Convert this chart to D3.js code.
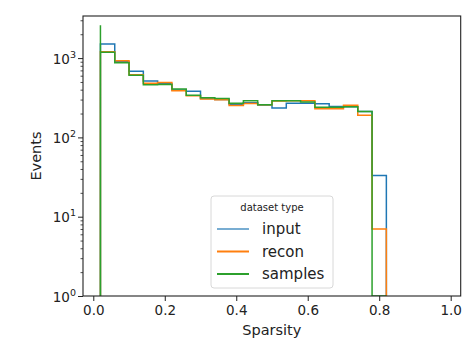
<!DOCTYPE html>
<html>
<head>
<meta charset="utf-8">
<script src="https://cdn.jsdelivr.net/npm/d3@7"></script>
<style>
  body { margin: 0; background: #fff; }
  svg { display: block; }
</style>
</head>
<body>
<div id="chart"></div>
<script>
"use strict";

// bin edges of the sparsity histogram
const binEdges = [0.02, 0.06, 0.10, 0.14, 0.18, 0.22, 0.26, 0.30, 0.34, 0.38, 0.42,
                  0.46, 0.50, 0.54, 0.58, 0.62, 0.66, 0.70, 0.74, 0.78, 0.82];

// counts per bin
const inputCounts   = [1506, 900, 682, 514, 475, 395, 381, 310, 300, 262,
                       274, 256, 235, 269, 269, 266, 245, 244, 212, 33];
const reconCounts   = [1205, 927, 615, 481, 492, 388, 335, 305, 299, 253,
                       268, 258, 287, 289, 290, 230, 230, 254, 190, 7];
const samplesCounts = [1184, 875, 607, 462, 465, 408, 340, 317, 310, 269,
                       290, 258, 290, 290, 279, 240, 240, 244, 212, 0];
const samplesSpike = 2600;

const seriesNames = ["input", "recon", "samples"];
const seriesColors = ["#1f77b4", "#ff7f0e", "#2ca02c"];

const xTicks = [0.0, 0.2, 0.4, 0.6, 0.8, 1.0];
const yTicks = [1, 10, 100, 1000];

let font_sans = "'DejaVu Sans', sans-serif";

let width = 462, height = 342;
let margin = {top: 16, right: 1.3, bottom: 46, left: 83};

const svg = d3.select("#chart").append("svg")
    .attr("width", width)
    .attr("height", height)
    .style("font-family", font_sans);

let x = d3.scaleLinear([-0.0288, 1.028], [margin.left, width - margin.right]);
let y = d3.scaleLog([1, 3396], [height - margin.bottom, margin.top]);

// step path of a histogram, zero counts drop to the bottom of the axis
function stepPath(counts, spike) {
    const ymin = y.domain()[0];
    const pts = [[binEdges[0], ymin]];
    if (spike) pts.push([binEdges[0], spike]);
    counts.forEach((c, i) => {
        const v = Math.max(c, ymin);
        pts.push([binEdges[i], v]);
        pts.push([binEdges[i + 1], v]);
    });
    pts.push([binEdges[binEdges.length - 1], ymin]);
    return d3.line().x(d => x(d[0])).y(d => y(d[1]))(pts);
}

const clip = svg.append("clipPath").attr("id", "clip")
    .append("rect")
    .attr("x", margin.left).attr("y", margin.top)
    .attr("width", width - margin.right - margin.left)
    .attr("height", height - margin.bottom - margin.top);

const lines = svg.append("g").attr("clip-path", "url(#clip)");
[[inputCounts, null], [reconCounts, null], [samplesCounts, samplesSpike]].forEach(([c, s], i) => {
    lines.append("path")
        .attr("d", stepPath(c, s))
        .attr("fill", "none")
        .attr("stroke", seriesColors[i])
        .attr("stroke-width", 1.5)
        .attr("stroke-linejoin", "miter");
});

// x axis
const gx = svg.append("g")
    .attr("transform", `translate(0,${height - margin.bottom})`)
    .call(d3.axisBottom(x).tickValues(xTicks).tickFormat(d3.format(".1f")).tickSizeOuter(0).tickSize(5).tickPadding(4));
gx.select(".domain").remove();
gx.selectAll(".tick line").attr("stroke", "#222").attr("stroke-width", 1);
gx.selectAll(".tick text").attr("fill", "#222").style("font-size", "13.5px").style("font-family", font_sans);

// y axis: major ticks with 10^n labels, minor ticks in between
const minor = [];
for (let d = 1; d < 10000; d *= 10)
    for (let m = 2; m <= 9; m++)
        if (d * m <= y.domain()[1]) minor.push(d * m);

const gy = svg.append("g").attr("transform", `translate(${margin.left},0)`);
gy.call(d3.axisLeft(y).tickValues(minor).tickFormat("").tickSize(2.5));
gy.select(".domain").remove();
gy.selectAll(".tick line").attr("stroke", "#222").attr("stroke-width", 0.8);

const gyMajor = svg.append("g").attr("transform", `translate(${margin.left},0)`);
gyMajor.call(d3.axisLeft(y).tickValues(yTicks).tickFormat("").tickSize(5));
gyMajor.select(".domain").remove();
gyMajor.selectAll(".tick line").attr("stroke", "#222").attr("stroke-width", 1);
gyMajor.selectAll(".tick").each(function(d) {
    const t = d3.select(this).append("text")
        .attr("x", -7)
        .attr("y", 5)
        .attr("fill", "#222")
        .attr("text-anchor", "end")
        .style("font-size", "13.5px")
        .style("font-family", font_sans);
    t.append("tspan").text("10");
    t.append("tspan")
        .attr("dy", -6)
        .style("font-size", "9.5px")
        .text(Math.round(Math.log10(d)));
});

// frame
svg.append("rect")
    .attr("x", margin.left).attr("y", margin.top)
    .attr("width", width - margin.right - margin.left)
    .attr("height", height - margin.bottom - margin.top)
    .attr("fill", "none")
    .attr("stroke", "#222")
    .attr("stroke-width", 1.1);

// axis labels
svg.append("text")
    .attr("x", (margin.left + width - margin.right) / 2)
    .attr("y", 335)
    .attr("text-anchor", "middle")
    .attr("fill", "#222")
    .style("font-size", "14.5px")
    .text("Sparsity");

svg.append("text")
    .attr("transform", `translate(41,${(margin.top + height - margin.bottom) / 2}) rotate(-90)`)
    .attr("text-anchor", "middle")
    .attr("fill", "#222")
    .style("font-size", "14.5px")
    .text("Events");

// legend
const legend = svg.append("g").attr("transform", "translate(211,196)");
legend.append("rect")
    .attr("width", 122).attr("height", 92)
    .attr("rx", 3)
    .attr("fill", "#fff").attr("fill-opacity", 0.8)
    .attr("stroke", "#d8d8d8").attr("stroke-width", 1);
legend.append("text")
    .attr("x", 61).attr("y", 15)
    .attr("text-anchor", "middle")
    .attr("fill", "#222")
    .style("font-size", "10px")
    .text("dataset type");
seriesNames.forEach((name, i) => {
    const yy = 33 + i * 22.5;
    legend.append("line")
        .attr("x1", 6).attr("x2", 38)
        .attr("y1", yy).attr("y2", yy)
        .attr("stroke", seriesColors[i])
        .attr("stroke-width", i === 0 ? 1.2 : 2);
    legend.append("text")
        .attr("x", 51).attr("y", yy + 5)
        .attr("fill", "#222")
        .style("font-size", "15px")
        .text(name);
});
</script>
</body>
</html>
